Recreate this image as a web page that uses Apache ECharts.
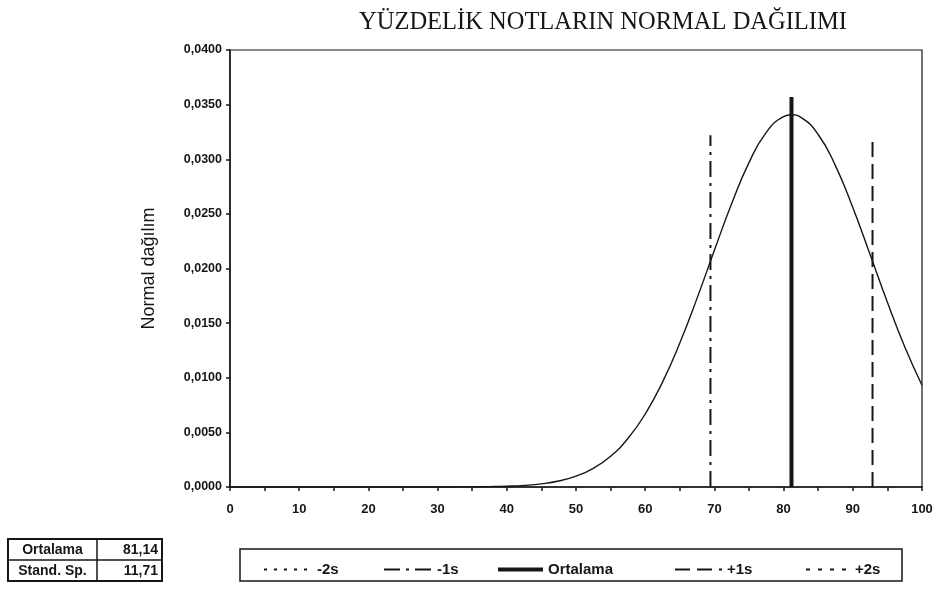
<!DOCTYPE html>
<html>
<head>
<meta charset="utf-8">
<script src="https://cdn.jsdelivr.net/npm/echarts@6/dist/echarts.min.js"></script>
<style>
html,body{margin:0;padding:0;background:#fff;}
#chart{width:941px;height:591px;}
</style>
</head>
<body>
<div id="chart"></div>
<script>
// ---- data ----
const titleText = 'YÜZDELİK NOTLARIN NORMAL DAĞILIMI';
const yAxisName = 'Normal dağılım';
const curveX = [0, 5, 10, 15, 20, 25, 30, 32.5, 35, 37.5, 40, 42.5, 45, 47.5, 50, 52.5, 55, 57.5, 60, 62.5, 65, 67.5, 70, 72.5, 75, 77.5, 80, 81.14, 82.5, 85, 87.5, 90, 92.5, 95, 97.5, 100];
const curveY = [0, 0, 0, 0, 0, 0.0000004, 0.0000025, 0.0000061, 0.0000145, 0.0000328, 0.0000711, 0.000147, 0.000291, 0.00055, 0.000993, 0.001711, 0.002819, 0.004441, 0.006679, 0.009597, 0.013178, 0.017288, 0.02167, 0.025951, 0.029693, 0.032462, 0.033908, 0.034069, 0.03384, 0.032267, 0.029397, 0.025589, 0.021281, 0.01691, 0.012838, 0.009312];
const refNames = ['-2s', '-1s', 'Ortalama', '+1s', '+2s'];
const refX = [57.72, 69.43, 81.14, 92.85, 104.56];
const refTop = [0, 0.0322, 0.0357, 0.0322, 0.0322];
const statLabels = ['Ortalama', 'Stand. Sp.'];
const statValues = ['81,14', '11,71'];

// ---- styling ----
const ink = '#161616';
const refStyles = [
  {type: [3, 7], width: 2},
  {type: [16, 6, 3, 6], width: 2},
  {type: 'solid', width: 4},
  {type: [15, 7], width: 2},
  {type: [4, 8], width: 2}
];
const legendPos = [
  {left: 258, w: 48},
  {left: 378, w: 48},
  {left: 491, w: 45},
  {left: 669, w: 47},
  {left: 800, w: 44}
];

const chart = echarts.init(document.getElementById('chart'), null, {renderer: 'canvas'});

const series = [{
  name: 'curve',
  type: 'line',
  data: curveX.map((x, i) => [x, curveY[i]]),
  smooth: true,
  symbol: 'none',
  itemStyle: {color: ink},
  lineStyle: {color: ink, width: 1.4},
  z: 3
}];
refNames.forEach((n, i) => {
  series.push({
    name: n,
    type: 'line',
    data: [[refX[i], 0], [refX[i], refTop[i]]],
    symbol: 'none',
    clip: true,
    itemStyle: {color: ink},
    lineStyle: {color: ink, width: refStyles[i].width, type: refStyles[i].type},
    z: 4
  });
});

const legends = refNames.map((n, i) => ({
  data: [n],
  left: legendPos[i].left,
  top: 557,
  itemWidth: legendPos[i].w,
  itemHeight: 14,
  selectedMode: false,
  itemStyle: {opacity: 0},
  lineStyle: {width: refStyles[i].width, type: refStyles[i].type, color: ink},
  textStyle: {fontFamily: 'Liberation Sans, Arial, sans-serif', fontSize: 15, fontWeight: 'bold', color: ink}
}));

const tableX = 8, tableY = 539, tableW = 154, rowH = 21, colX = 97;
const tableGraphics = [
  {type: 'rect', shape: {x: tableX, y: tableY, width: tableW, height: rowH * 2}, style: {fill: 'none', stroke: ink, lineWidth: 2}},
  {type: 'line', shape: {x1: tableX, y1: tableY + rowH, x2: tableX + tableW, y2: tableY + rowH}, style: {stroke: ink, lineWidth: 1.5}},
  {type: 'line', shape: {x1: colX, y1: tableY, x2: colX, y2: tableY + rowH * 2}, style: {stroke: ink, lineWidth: 1.5}}
];
statLabels.forEach((l, i) => {
  tableGraphics.push({type: 'text', x: (tableX + colX) / 2, y: tableY + rowH * i + rowH / 2 + 1,
    style: {text: l, fill: ink, font: 'bold 14px Liberation Sans, Arial, sans-serif', textAlign: 'center', textVerticalAlign: 'middle'}});
  tableGraphics.push({type: 'text', x: tableX + tableW - 4, y: tableY + rowH * i + rowH / 2 + 1,
    style: {text: statValues[i], fill: ink, font: 'bold 14px Liberation Sans, Arial, sans-serif', textAlign: 'right', textVerticalAlign: 'middle'}});
});

const option = {
  backgroundColor: '#ffffff',
  animation: false,
  title: {
    text: titleText,
    left: 598, textAlign: 'center', top: 5,
    textStyle: {fontFamily: 'Liberation Serif, Times New Roman, serif', fontWeight: 'normal', fontSize: 24.5, color: ink}
  },
  grid: {left: 230, right: 19, top: 50, bottom: 104, show: true, borderColor: ink, borderWidth: 1.2, backgroundColor: 'transparent'},
  legend: legends,
  xAxis: {
    type: 'value', min: 0, max: 100, interval: 5,
    axisLine: {lineStyle: {color: ink, width: 1.5}},
    axisTick: {show: true, inside: false, length: 4, lineStyle: {color: ink, width: 1.5}},
    splitLine: {show: false},
    axisLabel: {
      margin: 16, color: ink, fontFamily: 'Liberation Sans, Arial, sans-serif', fontWeight: 'bold', fontSize: 13,
      formatter: v => (v % 10 === 0 ? String(v) : '')
    }
  },
  yAxis: {
    type: 'value', min: 0, max: 0.04, interval: 0.005,
    name: yAxisName, nameLocation: 'middle', nameRotate: 90, nameGap: 72,
    nameTextStyle: {fontFamily: 'Liberation Sans, Arial, sans-serif', fontSize: 18, color: ink},
    axisLine: {show: true, lineStyle: {color: ink, width: 1.5}},
    axisTick: {show: true, inside: false, length: 4, lineStyle: {color: ink, width: 1.5}},
    splitLine: {show: false},
    axisLabel: {
      margin: 8, color: ink, fontFamily: 'Liberation Sans, Arial, sans-serif', fontWeight: 'bold', fontSize: 12.5,
      formatter: v => v.toFixed(4).replace('.', ',')
    }
  },
  graphic: [
    {type: 'rect', shape: {x: 240, y: 549, width: 662, height: 32}, style: {fill: 'none', stroke: ink, lineWidth: 1.5}},
    ...tableGraphics
  ],
  series: series
};
chart.setOption(option);
</script>
</body>
</html>
